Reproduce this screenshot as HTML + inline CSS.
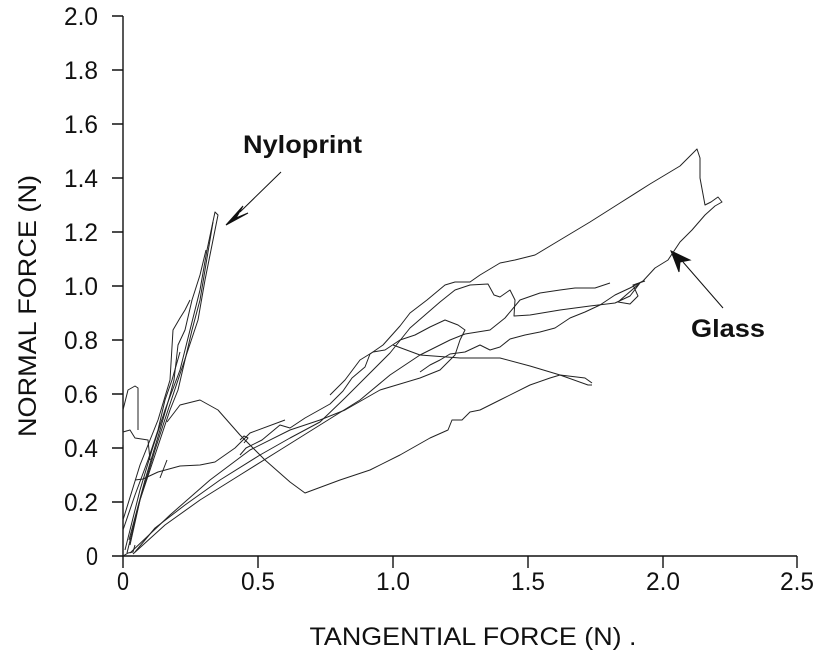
<!DOCTYPE html>
<html><head><style>body{margin:0;background:#fff}svg{display:block}</style></head><body>
<svg width="824" height="650" viewBox="0 0 824 650" xmlns="http://www.w3.org/2000/svg" font-family="Liberation Sans, sans-serif">
<rect width="824" height="650" fill="#fff"/>
<g stroke="#111" stroke-width="1.4" fill="none">
<path d="M123,16V556H797"/>
<path d="M112,16H123M112,70H123M112,124H123M112,178H123M112,232H123M112,286H123M112,340H123M112,394H123M112,448H123M112,502H123M112,556H123"/>
<path d="M123,556V568M258,556V568M393,556V568M528,556V568M663,556V568M797,556V568"/>
</g>
<g font-size="25" fill="#111" text-anchor="end" lengthAdjust="spacingAndGlyphs">
<text x="98" y="25" textLength="34" lengthAdjust="spacingAndGlyphs">2.0</text>
<text x="98" y="79" textLength="34" lengthAdjust="spacingAndGlyphs">1.8</text>
<text x="98" y="133" textLength="34" lengthAdjust="spacingAndGlyphs">1.6</text>
<text x="98" y="187" textLength="34" lengthAdjust="spacingAndGlyphs">1.4</text>
<text x="98" y="241" textLength="34" lengthAdjust="spacingAndGlyphs">1.2</text>
<text x="98" y="295" textLength="34" lengthAdjust="spacingAndGlyphs">1.0</text>
<text x="98" y="349" textLength="34" lengthAdjust="spacingAndGlyphs">0.8</text>
<text x="98" y="403" textLength="34" lengthAdjust="spacingAndGlyphs">0.6</text>
<text x="98" y="457" textLength="34" lengthAdjust="spacingAndGlyphs">0.4</text>
<text x="98" y="511" textLength="34" lengthAdjust="spacingAndGlyphs">0.2</text>
<text x="98" y="565" textLength="12" lengthAdjust="spacingAndGlyphs">0</text>
</g>
<g font-size="25" fill="#111" text-anchor="middle">
<text x="123" y="590" textLength="12" lengthAdjust="spacingAndGlyphs">0</text>
<text x="258" y="590" textLength="34" lengthAdjust="spacingAndGlyphs">0.5</text>
<text x="393" y="590" textLength="34" lengthAdjust="spacingAndGlyphs">1.0</text>
<text x="528" y="590" textLength="34" lengthAdjust="spacingAndGlyphs">1.5</text>
<text x="663" y="590" textLength="34" lengthAdjust="spacingAndGlyphs">2.0</text>
<text x="797" y="590" textLength="34" lengthAdjust="spacingAndGlyphs">2.5</text>
<text x="473" y="645" textLength="327" lengthAdjust="spacingAndGlyphs">TANGENTIAL FORCE (N) .</text>
<text transform="translate(36,306) rotate(-90)" textLength="262" lengthAdjust="spacingAndGlyphs">NORMAL FORCE (N)</text>
</g>
<text x="243" y="153" font-size="25" font-weight="bold" fill="#111" textLength="119" lengthAdjust="spacingAndGlyphs">Nyloprint</text>
<text x="691" y="337" font-size="25" font-weight="bold" fill="#111" textLength="74" lengthAdjust="spacingAndGlyphs">Glass</text>
<g stroke="#111" stroke-width="1" fill="none">
<path d="M281,172L240,212"/><path d="M226,225L243,206L236,218L248,213Z" fill="#111"/>
<path d="M723,308L683,262"/><path d="M671,251L690,260L680,262L679,272Z" fill="#111"/>
</g>
<g stroke="#222" stroke-width="1" fill="none" stroke-linejoin="round">
<path d="M125,550L140,490L152,450L165,410L180,370L190,330L200,290L207,250L215,212L218,215L212,245L205,280L198,320L188,350L178,380L168,410L155,450L140,500L130,545"/>
<path d="M127,553L140,500L150,470L160,440L170,410L178,390L185,360L192,330L200,300L205,270L210,240L213,222"/>
<path d="M129,540L145,480L160,430L170,395L174,380L178,345L185,330L192,300L200,275L206,250"/>
<path d="M123,520L140,465L158,420L170,380L173,330L180,318L185,310L190,300"/>
<path d="M123,530L135,495L148,460L158,430L165,400L172,380L180,352"/>
<path d="M123,445L123,432L130,430L135,438L148,440L150,460"/>
<path d="M123,410L128,390L135,386L138,388L138,430"/>
<path d="M123,556L128,553L133,552L135,545"/>
<path d="M135,552L155,528L185,505L220,480L260,455L290,438L320,422L345,398L365,378L390,353L410,328L425,315L440,302L455,290L470,285L488,284L494,295L500,297L510,290L515,300L514,316L530,315L560,310L590,306L615,303L630,296L640,283L618,302L630,304L638,296L633,285L645,281"/>
<path d="M240,455L246,448L262,440L280,425L290,428L305,418L330,404L343,391L352,378L365,367L370,354L383,345L400,326L410,313L427,300L445,285L455,282L470,282L480,275L500,263L515,260L535,255L560,240L590,222L620,203L650,184L680,166L697,149L700,158L700,178L705,205L711,202L718,197L722,202L715,206L705,215L692,230L680,242L668,260L655,268L643,281L630,288L615,295L600,305L585,312L570,318L555,328L540,332L525,335L510,339L500,347L490,350L480,345L465,352L450,354L440,360L430,365L420,372"/>
<path d="M130,553L170,515L210,480L250,450L290,430L320,420L345,410L380,390L420,378L440,370L455,355L460,340L465,330L458,325L445,320L430,327L415,335L400,340L385,350L373,352L360,360L345,380L330,395"/>
<path d="M133,554L165,525L200,500L240,475L280,450L320,425L360,400L390,375L420,355L450,340L465,334L490,330L505,318L520,300L540,293L560,290L575,288L595,288L610,283"/>
<path d="M393,345L420,355L460,358L500,358L530,366L560,375L588,385L592,385"/>
<path d="M135,480L143,479L158,472L180,466L200,465L215,462L235,448L250,433L285,420"/>
<path d="M160,478L167,460"/>
<path d="M167,422L180,405L200,400L218,410L240,435L265,460L290,482L305,493L340,480L370,470L400,455L430,438L448,430L452,420L462,420L470,412L480,410L500,400L530,385L550,378L560,375L585,378L592,383"/>
<path d="M240,440L244,436L248,438L244,443"/>
</g>
</svg>
</body></html>
